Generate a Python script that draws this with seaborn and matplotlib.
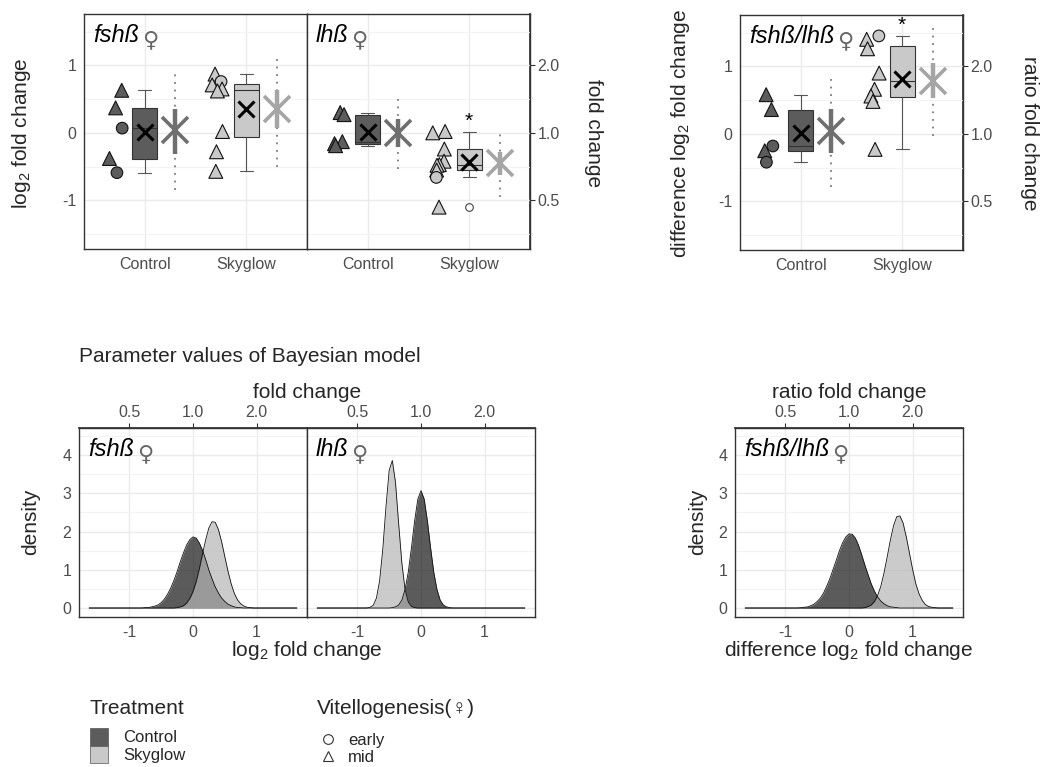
import numpy as np
import pandas as pd
import matplotlib
matplotlib.use("Agg")
import matplotlib.pyplot as plt
import seaborn as sns
from matplotlib.patches import Rectangle
from matplotlib.lines import Line2D
from matplotlib.ticker import MultipleLocator, NullLocator

sns.set_theme(style="white")
plt.rcParams["font.family"] = ["Liberation Sans", "DejaVu Sans"]
plt.rcParams["mathtext.fontset"] = "custom"
plt.rcParams["mathtext.rm"] = "Liberation Sans"
plt.rcParams["mathtext.it"] = "Liberation Sans:italic"
plt.rcParams["mathtext.default"] = "regular"

# ---------------------------------------------------------------- data
TREATMENTS = ["Control", "Skyglow"]
STAGES = ["early", "mid"]

# measured log2 fold change per fish and its vitellogenesis stage
FSH_CONTROL = [0.63, 0.37, 0.07, -0.38, -0.59]
FSH_CONTROL_STAGE = ["mid", "mid", "early", "mid", "early"]
FSH_SKYGLOW = [0.87, 0.76, 0.71, 0.65, 0.62, 0.02, -0.28, -0.57]
FSH_SKYGLOW_STAGE = ["mid", "early", "mid", "mid", "mid", "mid", "mid", "mid"]

LH_CONTROL = [0.30, 0.27, -0.13, -0.16, -0.19]
LH_CONTROL_STAGE = ["mid", "mid", "mid", "mid", "mid"]
LH_SKYGLOW = [0.02, 0.00, -0.24, -0.42, -0.47, -0.48, -0.55, -0.66, -1.10]
LH_SKYGLOW_STAGE = ["mid", "mid", "mid", "mid", "mid", "mid", "mid", "early", "mid"]

RATIO_CONTROL = [0.58, 0.36, -0.18, -0.25, -0.42]
RATIO_CONTROL_STAGE = ["mid", "mid", "early", "mid", "early"]
RATIO_SKYGLOW = [1.45, 1.40, 1.26, 0.90, 0.66, 0.56, 0.48, -0.23]
RATIO_SKYGLOW_STAGE = ["early", "mid", "mid", "mid", "mid", "mid", "mid", "mid"]

# Bayesian model estimates: mean, 50 % and 95 % credible intervals
FSH_EST_MEAN = [0.04, 0.35]
FSH_EST_CI50 = [(-0.31, 0.36), (0.07, 0.63)]
FSH_EST_CI95 = [(-0.84, 0.87), (-0.50, 1.12)]
LH_EST_MEAN = [0.00, -0.44]
LH_EST_CI50 = [(-0.21, 0.20), (-0.63, -0.28)]
LH_EST_CI95 = [(-0.53, 0.52), (-0.95, 0.00)]
RATIO_EST_MEAN = [0.04, 0.78]
RATIO_EST_CI50 = [(-0.28, 0.37), (0.53, 1.05)]
RATIO_EST_CI95 = [(-0.79, 0.83), (-0.03, 1.60)]

# posterior densities on a 0.05 grid from -0.90 to 1.40
DENS_X = np.round(np.arange(-0.90, 1.401, 0.05), 2)
DENS_SUPPORT = (-1.63, 1.63)
FSH_DENS_CONTROL = [
    0, 0, 0, 0.01, 0.01, 0.03, 0.05, 0.08, 0.14, 0.23,
    0.36, 0.52, 0.72, 0.95, 1.21, 1.44, 1.65, 1.79, 1.86, 1.83,
    1.70, 1.51, 1.26, 0.99, 0.76, 0.55, 0.39, 0.26, 0.17, 0.10,
    0.06, 0.03, 0.01, 0.01, 0, 0, 0, 0, 0, 0,
    0, 0, 0, 0, 0, 0, 0]
FSH_DENS_SKYGLOW = [
    0, 0, 0, 0, 0, 0, 0, 0, 0, 0,
    0, 0, 0, 0.01, 0.03, 0.06, 0.13, 0.25, 0.43, 0.69,
    1.03, 1.42, 1.79, 2.10, 2.26, 2.24, 2.05, 1.73, 1.34, 0.96,
    0.63, 0.38, 0.21, 0.11, 0.05, 0.02, 0.01, 0, 0, 0,
    0, 0, 0, 0, 0, 0, 0]
LH_DENS_CONTROL = [
    0, 0, 0, 0, 0, 0, 0, 0, 0, 0.01,
    0.03, 0.08, 0.21, 0.49, 0.94, 1.58, 2.28, 2.85, 3.07, 2.85,
    2.28, 1.58, 0.94, 0.49, 0.21, 0.08, 0.03, 0.01, 0, 0,
    0, 0, 0, 0, 0, 0, 0, 0, 0, 0,
    0, 0, 0, 0, 0, 0, 0]
LH_DENS_SKYGLOW = [
    0, 0, 0.02, 0.07, 0.26, 0.71, 1.54, 2.65, 3.60, 3.86,
    3.28, 2.19, 1.17, 0.48, 0.16, 0.04, 0.01, 0, 0, 0,
    0, 0, 0, 0, 0, 0, 0, 0, 0, 0,
    0, 0, 0, 0, 0, 0, 0, 0, 0, 0,
    0, 0, 0, 0, 0, 0, 0]
RATIO_DENS_CONTROL = [
    0, 0, 0, 0.01, 0.02, 0.03, 0.06, 0.10, 0.17, 0.26,
    0.39, 0.57, 0.77, 1.01, 1.25, 1.50, 1.71, 1.86, 1.94, 1.93,
    1.83, 1.64, 1.39, 1.12, 0.87, 0.63, 0.44, 0.29, 0.18, 0.11,
    0.06, 0.03, 0.02, 0.01, 0, 0, 0, 0, 0, 0,
    0, 0, 0, 0, 0, 0, 0]
RATIO_DENS_SKYGLOW = [
    0, 0, 0, 0, 0, 0, 0, 0, 0, 0,
    0, 0, 0, 0, 0, 0, 0, 0, 0, 0,
    0, 0, 0, 0.01, 0.04, 0.08, 0.17, 0.33, 0.57, 0.92,
    1.34, 1.78, 2.16, 2.39, 2.41, 2.22, 1.86, 1.43, 1.00, 0.63,
    0.37, 0.20, 0.09, 0.04, 0.02, 0.01, 0]

FOLD_TICKS = [0.5, 1.0, 2.0]
FOLD_LABELS = ["0.5", "1.0", "2.0"]

# ---------------------------------------------------------------- style
FILL = {"Control": "#5c5c5c", "Skyglow": "#c9c9c9"}
DENS_FILL = {"Control": "#161616", "Skyglow": "#b6b6b6"}
STAR_COL = {"Control": "#6f6f6f", "Skyglow": "#a5a5a5"}
GRID_MAJOR = "#ebebeb"
GRID_MINOR = "#f3f3f3"
BORDER = "#333333"
TICKTXT = "#4d4d4d"
FEMALE_COL = "#666666"

W, H = 1041, 767
fig = plt.figure(figsize=(W / 100, H / 100), dpi=100)


def px_box(l, r, t, b):
    return [l / W, 1 - b / H, (r - l) / W, (b - t) / H]


def fxy(x, y):
    return x / W, 1 - y / H


def ftext(x, y, s, **kw):
    return fig.text(*fxy(x, y), s, **kw)


def style_axes(ax):
    ax.set_axisbelow(True)
    for sp in ax.spines.values():
        sp.set_color(BORDER)
        sp.set_linewidth(1.0)
        sp.set_visible(True)
    ax.grid(True, which="major", color=GRID_MAJOR, lw=1.0)
    ax.grid(True, which="minor", axis="y", color=GRID_MINOR, lw=0.8)
    ax.tick_params(which="major", length=3.5, width=0.8, color=BORDER,
                   labelcolor=TICKTXT, labelsize=11.5, pad=2)
    ax.tick_params(which="minor", length=0)
    ax.set_xlabel("")
    ax.set_ylabel("")


def panel_label(ax, name):
    t = ax.annotate(name, xy=(0, 1), xycoords="axes fraction",
                    xytext=(6.5, -7.5), textcoords="offset points",
                    style="italic", fontsize=17, color="black",
                    va="top", ha="left")
    ax.annotate("\u2640", xy=(1, 0), xycoords=t, xytext=(2, -2),
                textcoords="offset points", fontsize=16, color=FEMALE_COL,
                va="bottom", ha="left", family=["DejaVu Sans"])


PT_OFFSET = -0.29
STAR_OFFSET = 0.30
PT_SIZES = {"early": 70, "mid": 100}


def box_panel(ax, ctrl, ctrl_stage, sky, sky_stage, est_mean, ci50, ci95,
              signif=None, seed=0):
    df = pd.DataFrame({
        "treatment": ["Control"] * len(ctrl) + ["Skyglow"] * len(sky),
        "value": list(ctrl) + list(sky),
        "stage": list(ctrl_stage) + list(sky_stage),
    })
    df["pos"] = df["treatment"].map({"Control": 1, "Skyglow": 2})
    rng = np.random.default_rng(seed)
    df["xj"] = df["pos"] + PT_OFFSET + rng.uniform(-0.07, 0.07, len(df))

    sns.boxplot(data=df, x="pos", y="value", hue="treatment",
                hue_order=TREATMENTS, palette=FILL, native_scale=True,
                width=0.25, dodge=False, saturation=1, linecolor=BORDER,
                linewidth=0.8, whis=1.5, legend=False, ax=ax,
                whiskerprops=dict(color="#555555"),
                capprops=dict(color="#555555"),
                flierprops=dict(marker="o", markersize=5.5,
                                markerfacecolor="white",
                                markeredgecolor="#444444",
                                markeredgewidth=0.8))
    for pos, tr in ((1, "Control"), (2, "Skyglow")):
        vals = df.loc[df["treatment"] == tr, "value"]
        ax.plot(pos, vals.mean(), marker="x", ms=11, mew=2.2,
                color="black", zorder=5)

    sns.scatterplot(data=df, x="xj", y="value", hue="treatment",
                    hue_order=TREATMENTS, palette=FILL, style="stage",
                    style_order=STAGES, markers={"early": "o", "mid": "^"},
                    size="stage", sizes=PT_SIZES,
                    edgecolor="#111111", linewidth=0.8, legend=False,
                    ax=ax, zorder=4)

    for i, tr in enumerate(TREATMENTS):
        x = i + 1 + STAR_OFFSET
        ax.plot([x, x], ci95[i], color="#7a7a7a", lw=1.3,
                ls=(0, (1, 3.2)), zorder=3)
        ax.plot([x, x], ci50[i], color=STAR_COL[tr], lw=3.2,
                solid_capstyle="butt", zorder=4)
        ax.plot(x, est_mean[i], marker="x", ms=19, mew=2.6,
                color=STAR_COL[tr], zorder=4)

    if signif:
        ax.text(2, max(sky) + 0.15, signif, ha="center", va="center",
                fontsize=15, color="black", zorder=6)

    ax.set_xlim(0.4, 2.6)
    ax.set_ylim(-1.72, 1.76)
    ax.set_xticks([1, 2], TREATMENTS)
    ax.set_yticks([-1, 0, 1], ["-1", "0", "1"])
    ax.yaxis.set_minor_locator(MultipleLocator(0.5))
    style_axes(ax)


def fold_yaxis(ax):
    sec = ax.secondary_yaxis("right", functions=(np.exp2, np.log2))
    sec.set_yticks(FOLD_TICKS, FOLD_LABELS)
    sec.yaxis.set_minor_locator(NullLocator())
    sec.tick_params(length=3.5, width=0.8, color=BORDER, labelcolor=TICKTXT,
                    labelsize=11.5, pad=2)
    sec.spines["right"].set_color(BORDER)
    return sec


def fold_xaxis(ax):
    sec = ax.secondary_xaxis("top", functions=(np.exp2, np.log2))
    sec.set_xticks(FOLD_TICKS, FOLD_LABELS)
    sec.xaxis.set_minor_locator(NullLocator())
    sec.tick_params(length=3.5, width=0.8, color=BORDER, labelcolor=TICKTXT,
                    labelsize=11.5, pad=2)
    sec.spines["top"].set_color(BORDER)
    return sec


def dens_panel(ax, ctrl_d, sky_d):
    x = np.concatenate([[DENS_SUPPORT[0]], DENS_X, [DENS_SUPPORT[1]]])
    for vals, tr in ((ctrl_d, "Control"), (sky_d, "Skyglow")):
        y = np.concatenate([[0.0], vals, [0.0]])
        ax.fill_between(x, y, color=DENS_FILL[tr], alpha=0.7, lw=0, zorder=2)
        sns.lineplot(x=x, y=y, color="#111111", lw=0.6, sort=False,
                     estimator=None, ax=ax, zorder=3)
    ax.set_xlim(-1.79, 1.79)
    ax.set_ylim(-0.235, 4.71)
    ax.set_xticks([-1, 0, 1], ["-1", "0", "1"])
    ax.set_yticks([0, 1, 2, 3, 4])
    ax.yaxis.set_minor_locator(MultipleLocator(0.5))
    style_axes(ax)


# ---------------------------------------------------------------- top row
ax_fsh = fig.add_axes(px_box(84, 307, 14, 249))
ax_lh = fig.add_axes(px_box(307, 530, 14, 249))
ax_ratio = fig.add_axes(px_box(740, 963, 15, 250))

box_panel(ax_fsh, FSH_CONTROL, FSH_CONTROL_STAGE, FSH_SKYGLOW,
          FSH_SKYGLOW_STAGE, FSH_EST_MEAN, FSH_EST_CI50, FSH_EST_CI95, seed=4)
box_panel(ax_lh, LH_CONTROL, LH_CONTROL_STAGE, LH_SKYGLOW, LH_SKYGLOW_STAGE,
          LH_EST_MEAN, LH_EST_CI50, LH_EST_CI95, signif="*", seed=7)
box_panel(ax_ratio, RATIO_CONTROL, RATIO_CONTROL_STAGE, RATIO_SKYGLOW,
          RATIO_SKYGLOW_STAGE, RATIO_EST_MEAN, RATIO_EST_CI50,
          RATIO_EST_CI95, signif="*", seed=11)
ax_lh.tick_params(axis="y", which="both", left=False, labelleft=False)
fold_yaxis(ax_lh)
fold_yaxis(ax_ratio)

panel_label(ax_fsh, "fshß")
panel_label(ax_lh, "lhß")
panel_label(ax_ratio, "fshß/lhß")

ftext(22, 133, "log$_2$ fold change", rotation=90, ha="center", va="center",
      fontsize=15)
ftext(594, 133, "fold change", rotation=270, ha="center", va="center",
      fontsize=15)
ftext(680, 133, "difference log$_2$ fold change", rotation=90, ha="center",
      va="center", fontsize=15)
ftext(1030, 133, "ratio fold change", rotation=270, ha="center",
      va="center", fontsize=15)

# ---------------------------------------------------------------- bottom row
ax_fsh_d = fig.add_axes(px_box(79, 307, 428, 617))
ax_lh_d = fig.add_axes(px_box(307, 535, 428, 617))
ax_ratio_d = fig.add_axes(px_box(735, 963, 428, 617))

dens_panel(ax_fsh_d, FSH_DENS_CONTROL, FSH_DENS_SKYGLOW)
dens_panel(ax_lh_d, LH_DENS_CONTROL, LH_DENS_SKYGLOW)
dens_panel(ax_ratio_d, RATIO_DENS_CONTROL, RATIO_DENS_SKYGLOW)
ax_lh_d.tick_params(axis="y", which="both", left=False, labelleft=False)
for a in (ax_fsh_d, ax_lh_d, ax_ratio_d):
    fold_xaxis(a)

panel_label(ax_fsh_d, "fshß")
panel_label(ax_lh_d, "lhß")
panel_label(ax_ratio_d, "fshß/lhß")

ftext(79, 357, "Parameter values of Bayesian model", ha="left", va="center",
      fontsize=15)
ftext(307, 393, "fold change", ha="center", va="center", fontsize=15)
ftext(849, 393, "ratio fold change", ha="center", va="center", fontsize=15)
ftext(307, 651, "log$_2$ fold change", ha="center", va="center", fontsize=15)
ftext(849, 651, "difference log$_2$ fold change", ha="center", va="center",
      fontsize=15)
ftext(31, 522, "density", rotation=90, ha="center", va="center", fontsize=15)
ftext(698, 522, "density", rotation=90, ha="center", va="center",
      fontsize=15)

# ---------------------------------------------------------------- legends
ftext(90, 709, "Treatment", ha="left", va="center", fontsize=15)
for i, tr in enumerate(TREATMENTS):
    top = 728 + i * 17.5
    x0, y0 = fxy(90, top + 17.5)
    fig.add_artist(Rectangle((x0, y0), 18 / W, 17.5 / H,
                             transform=fig.transFigure, facecolor=FILL[tr],
                             edgecolor="#555555", lw=0.5))
    ftext(123, top + 10, tr, ha="left", va="center", fontsize=12)

ftext(317, 709, "Vitellogenesis(\u2640)", ha="left", va="center",
      fontsize=15)
for i, (st, mk) in enumerate(zip(STAGES, ("o", "^"))):
    yc = 739 + i * 17
    fig.add_artist(Line2D([fxy(328, yc)[0]], [fxy(328, yc)[1]],
                          transform=fig.transFigure, ls="none", marker=mk,
                          ms=7, markerfacecolor="none",
                          markeredgecolor="#333333", markeredgewidth=0.8))
    ftext(348, yc + 1, st, ha="left", va="center", fontsize=12)

fig.savefig("out.png", dpi=100, facecolor="white")
